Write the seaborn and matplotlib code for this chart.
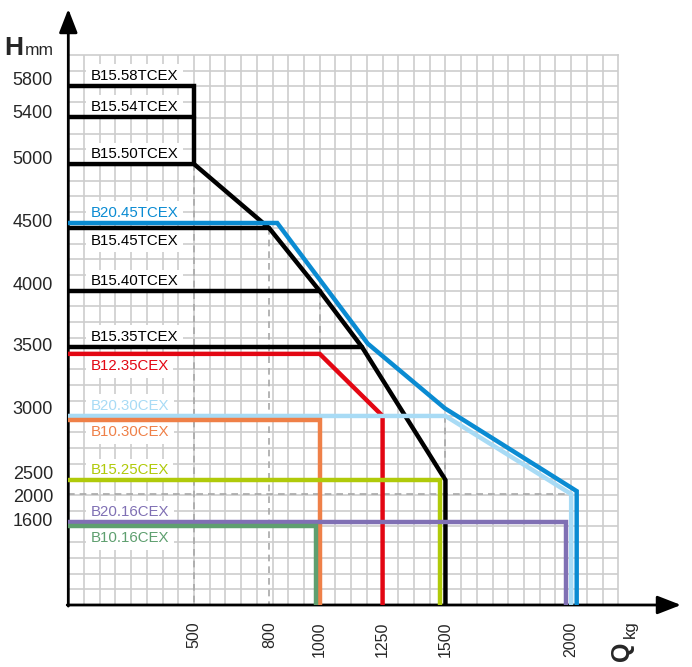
import numpy as np
import pandas as pd
import seaborn as sns
import matplotlib.pyplot as plt
from matplotlib import transforms as mtransforms

# load diagram data: Q (kg) vs lift height H (mm)
series_names = ['B15.58TCEX', 'B15.54TCEX', 'B15.50TCEX', 'B15.45TCEX', 'B15.40TCEX',
                'B15.35TCEX', 'B20.45TCEX', 'B12.35CEX', 'B20.30CEX', 'B10.30CEX',
                'B15.25CEX', 'B20.16CEX', 'B10.16CEX']
series_q = [
    [0, 500, 500],
    [0, 500],
    [0, 500, 800, 1000, 1168, 1500, 1500],
    [0, 800],
    [0, 1000],
    [0, 1168],
    [0, 831, 1191, 1498, 2022, 2022],
    [0, 1000, 1250, 1250],
    [0, 1500, 2000, 2000],
    [0, 1000, 1000],
    [0, 1480, 1480],
    [0, 1980, 1980],
    [0, 985, 985],
]
series_h = [
    [5800, 5800, 5000],
    [5400, 5400],
    [5000, 5000, 4460, 4000, 3500, 2500, 0],
    [4460, 4460],
    [4000, 4000],
    [3500, 3500],
    [4500, 4500, 3530, 3055, 2105, 0],
    [3450, 3450, 3000, 0],
    [3000, 3000, 2000, 0],
    [2970, 2970, 0],
    [2500, 2500, 0],
    [1600, 1600, 0],
    [1525, 1525, 0],
]
colors = ['black'] * 6 + ['#0a8bd2', '#e30713', '#a8dbf5', '#ef8048', '#b0ca0a', '#8070b4', '#5e9f6f']
label_side = ['above', 'above', 'above', 'below', 'above', 'above', 'above', 'below',
              'above', 'below', 'above', 'above', 'below']

# dashed helper lines
guide_q = [[500, 500], [800, 800], [1000, 1000], [1500, 1500], [0, 2000]]
guide_h = [[5000, 0], [4460, 0], [4000, 3450], [3000, 2500], [2000, 2000]]

x_ticks = [500, 800, 1000, 1250, 1500, 2000]
y_ticks = [5800, 5400, 5000, 4500, 4000, 3500, 3000, 2500, 2000, 1600]
y_label_nudge = [7, 5, 7, 2, 8, 2, 8, 8, -1, 3]  # px, tick label lift

# the H axis of the diagram is not linear: grid cells per knot
h_knots = [0, 1600, 2000, 2500, 3000, 3500, 4000, 4500, 5000, 5400, 5800, 6200]
cell_knots = [0, 5.28, 7.06, 7.95, 12.03, 16.42, 19.98, 24.31, 28.06, 31.06, 33.03, 35.0]


def fwd(h):
    return np.interp(h, h_knots, cell_knots)


def inv(c):
    return np.interp(c, cell_knots, h_knots)


sns.set_style('white')
plt.rcParams['font.family'] = ['Liberation Sans', 'DejaVu Sans']

W, H = 692, 667
fig = plt.figure(figsize=(W / 100, H / 100), dpi=100)
ox, oy, side = 68.3, 605, 550
ax = fig.add_axes([ox / W, (H - oy) / H, side / W, side / H])
ax.set_yscale('function', functions=(fwd, inv))

q_max = 35 * 62.5
ax.set_xlim(0, q_max)
ax.set_ylim(0, 6200)

# grid: 35 x 35 square cells
ax.set_xticks(np.arange(62.5, q_max, 62.5), minor=True)
ax.set_yticks(inv(np.arange(1, 35)), minor=True)
ax.xaxis.remove_overlapping_locs = False
ax.yaxis.remove_overlapping_locs = False
ax.grid(which='minor', color='#cdcdcd', lw=1.2)
ax.grid(which='major', visible=False)
ax.tick_params(which='both', length=0)

for gq, gh in zip(guide_q, guide_h):
    ax.plot(gq, gh, color='#a8a8a8', lw=1.2, dashes=(4, 3), zorder=2)

for name, q, h, c, s in zip(series_names, series_q, series_h, colors, label_side):
    df = pd.DataFrame({'Q': q, 'H': h})
    sns.lineplot(data=df, x='Q', y='H', sort=False, estimator=None, color=c,
                 lw=3.2, ax=ax, zorder=4, solid_joinstyle='miter')
    dy = 7.2 if s == 'above' else -8.8
    ax.annotate(name, xy=(0, h[0]), xytext=(16, dy), textcoords='offset points',
                ha='left', va='center', fontsize=10.8, color=c, zorder=3,
                bbox=dict(boxstyle='square,pad=0.3', fc='white', ec='none'))

ax.set_xlabel('')
ax.set_ylabel('')
ax.set_xticks(x_ticks, [str(v) for v in x_ticks])
ax.set_yticks(y_ticks, [str(v) for v in y_ticks])
ax.tick_params(axis='x', labelrotation=90, labelsize=11.5, pad=12)
ax.tick_params(axis='y', labelsize=13, pad=11)
for lab in ax.get_xticklabels():
    lab.set_va('top')
for lab, nd in zip(ax.get_yticklabels(), y_label_nudge):
    lab.set_transform(lab.get_transform() +
                      mtransforms.ScaledTranslation(0, nd / 100, fig.dpi_scale_trans))

for sp in ['top', 'right']:
    ax.spines[sp].set_color('#cdcdcd')
    ax.spines[sp].set_linewidth(1.2)
for sp in ['left', 'bottom']:
    ax.spines[sp].set_visible(False)

arrow = dict(arrowstyle='-|>,head_length=0.9,head_width=0.35', lw=2, color='black',
             mutation_scale=16, shrinkA=0, shrinkB=0)
ax.annotate('', xy=(0, (oy - 9) / side), xytext=(0, -0.002), xycoords='axes fraction',
            arrowprops=arrow, annotation_clip=False)
ax.annotate('', xy=((681 - ox) / side, 0), xytext=(-0.002, 0), xycoords='axes fraction',
            arrowprops=arrow, annotation_clip=False)

fig.text(4 / W, (H - 55) / H, 'H', fontsize=19, weight='bold', va='baseline')
fig.text(25 / W, (H - 55) / H, 'mm', fontsize=12.5, va='baseline')
fig.text(622 / W, (H - 651) / H, 'Q', fontsize=18, weight='bold', rotation=90,
         ha='center', va='center')
fig.text(630 / W, (H - 629) / H, 'kg', fontsize=12, rotation=90, ha='center', va='center')

fig.savefig('out.png', dpi=100)
